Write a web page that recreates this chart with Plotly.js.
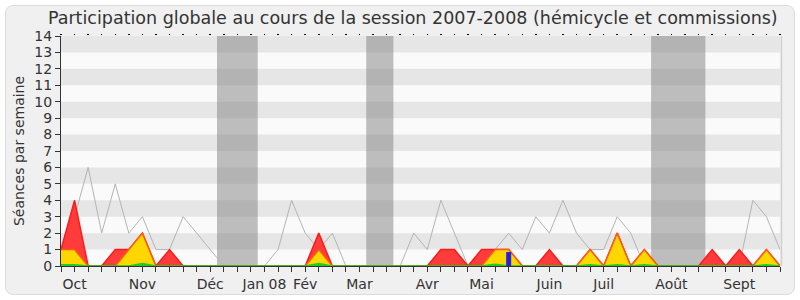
<!DOCTYPE html>
<html>
<head>
<meta charset="utf-8">
<script src="https://cdn.plot.ly/plotly-3.0.1.min.js"></script>
<style>
  html, body { margin: 0; padding: 0; background: #ffffff; }
  #frame { position: absolute; left: 5px; top: 5px; width: 788px; height: 288px;
           background: #f0f0f0; border: 1px solid #dcdcdc; border-radius: 8px; }
  #chart { position: absolute; left: 0; top: 0; width: 800px; height: 300px; }
</style>
</head>
<body>
<div id="frame"></div>
<div id="chart"></div>
<script>
// Week index (0 = first week of October 2007 ... 53 = end of September 2008)
const weeks = Array.from({length: 54}, (_, i) => i);

// Median participation of all deputies (grey line)
const medianSeances = [1,3,6,2,5,2,3,1,1,3,2,1,0,0,0,0,1,4,2,1,2,0,0,0,0,0,2,1,4,2,0,1,1,2,1,3,2,4,2,1,1,3,2,0,0,0,0,0,0,0,0,4,3,1];

// Total participation (hémicycle + commissions) - red
const totalSeances = [1,4,0,0,1,1,2,0,1,0,0,0,0,0,0,0,0,0,0,2,0,0,0,0,0,0,0,0,1,1,0,1,1,1,0,0,1,0,0,1,0,2,0,1,0,0,0,0,1,0,1,0,1,0];

// Hémicycle participation - yellow
const hemicycleSeances = [1,1,0,0,0,1,2,0,0,0,0,0,0,0,0,0,0,0,0,1,0,0,0,0,0,0,0,0,0,0,0,0,1,1,0,0,0,0,0,1,0,2,0,1,0,0,0,0,0,0,0,0,1,0];

// Interventions - green
const interventions = [0.08,0.08,0,0,0,0,0.15,0,0,0,0,0,0,0,0,0,0,0,0,0.15,0,0,0,0,0,0,0,0,0,0,0,0,0.1,0,0,0,0,0,0,0.08,0,0.08,0,0.08,0,0,0,0,0,0,0,0,0.08,0];

// Blue mark
const blueWeeks = [33];
const blueValues = [0.85];

// Parliamentary holidays (week ranges)
const vacStart = [11.5, 22.5, 43.5];
const vacEnd   = [14.5, 24.5, 47.5];

// Month labels
const monthPos    = [1, 6, 11, 15, 18, 22, 27, 31, 36, 40, 45, 50];
const monthLabels = ["Oct","Nov","Déc","Jan 08","Fév","Mar","Avr","Mai","Juin","Juil","Août","Sept"];

const yTicks = Array.from({length: 15}, (_, i) => i);

const tickText = weeks.map(w => {
  const k = monthPos.indexOf(w);
  return k >= 0 ? monthLabels[k] : "";
});

const FONT = "DejaVu Sans";

const traces = [
  { x: weeks, y: medianSeances, type: "scatter", mode: "lines",
    line: { color: "#b4b4b4", width: 1 }, hoverinfo: "skip" },
  { x: weeks, y: totalSeances, type: "scatter", mode: "lines", fill: "tozeroy",
    fillcolor: "#ff3b3b", line: { color: "#ff1a1a", width: 1.5 }, hoverinfo: "skip" },
  { x: weeks, y: hemicycleSeances, type: "scatter", mode: "lines", fill: "tozeroy",
    fillcolor: "#ffd700", line: { color: "#ff5a14", width: 1.5 }, hoverinfo: "skip" },
  { x: weeks, y: interventions, type: "scatter", mode: "lines", fill: "tozeroy",
    fillcolor: "#22cc22", line: { color: "#22cc22", width: 1.5 }, hoverinfo: "skip" }
];
for (let b = 0; b < blueWeeks.length; b++) {
  traces.push({ x: [blueWeeks[b], blueWeeks[b]], y: [0, blueValues[b]], type: "scatter", mode: "lines",
    line: { color: "#2323dd", width: 5 }, hoverinfo: "skip" });
}
traces.push({ x: [0], y: [0], xaxis: "x2", type: "scatter", mode: "none", hoverinfo: "skip" });

const shapes = [];
for (let k = 1; k < 14; k += 2) {
  shapes.push({ type: "rect", xref: "paper", x0: 0, x1: 1, yref: "y", y0: k, y1: k + 1,
    fillcolor: "#e6e6e6", line: { width: 0 }, layer: "below" });
}
for (let v = 0; v < vacStart.length; v++) {
  shapes.push({ type: "rect", xref: "x", x0: vacStart[v], x1: vacEnd[v], yref: "paper", y0: 0, y1: 1,
    fillcolor: "rgba(128,128,128,0.5)", line: { width: 0 }, layer: "below" });
}
shapes.push({ type: "line", xref: "paper", x0: 1.002, x1: 1.002, yref: "paper", y0: 0, y1: 1,
  line: { color: "#d0d0d0", width: 1.5 } });

const layout = {
  width: 800, height: 300,
  margin: { l: 61, r: 20, t: 36, b: 34, pad: 0 },
  paper_bgcolor: "rgba(0,0,0,0)",
  plot_bgcolor: "#fafafa",
  showlegend: false,
  font: { family: FONT, color: "#333333" },
  title: { text: "Participation globale au cours de la session 2007-2008 (hémicycle et commissions)",
    font: { family: FONT, size: 17.5, color: "#333333" },
    xref: "container", x: 0.516, xanchor: "center",
    yref: "container", y: 0.94, yanchor: "middle" },
  xaxis: {
    range: [0, 53], tickmode: "array", tickvals: weeks, ticktext: tickText,
    ticks: "outside", ticklen: 5, tickcolor: "#333333", tickwidth: 1,
    showgrid: false, zeroline: false, showline: true, linecolor: "#333333", linewidth: 1,
    tickfont: { family: FONT, size: 14, color: "#333333" }, fixedrange: true
  },
  xaxis2: {
    range: [0, 53], overlaying: "x", side: "top", anchor: "y",
    tickmode: "linear", tick0: 0, dtick: 1, ticks: "outside", ticklen: 1.5, tickwidth: 1.5,
    tickcolor: "#000000", showticklabels: false, showgrid: false, zeroline: false, showline: false
  },
  yaxis: {
    range: [0, 14], tickmode: "array", tickvals: yTicks, ticktext: yTicks.map(String),
    ticks: "outside", ticklen: 5, tickcolor: "#333333",
    showgrid: false, zeroline: false, showline: true, linecolor: "#333333", linewidth: 1,
    tickfont: { family: FONT, size: 14, color: "#333333" },
    title: { text: "Séances par semaine", font: { family: FONT, size: 14, color: "#333333" }, standoff: 6 },
    fixedrange: true
  },
  shapes: shapes
};

Plotly.newPlot("chart", traces, layout, { displayModeBar: false, staticPlot: true });
</script>
</body>
</html>
